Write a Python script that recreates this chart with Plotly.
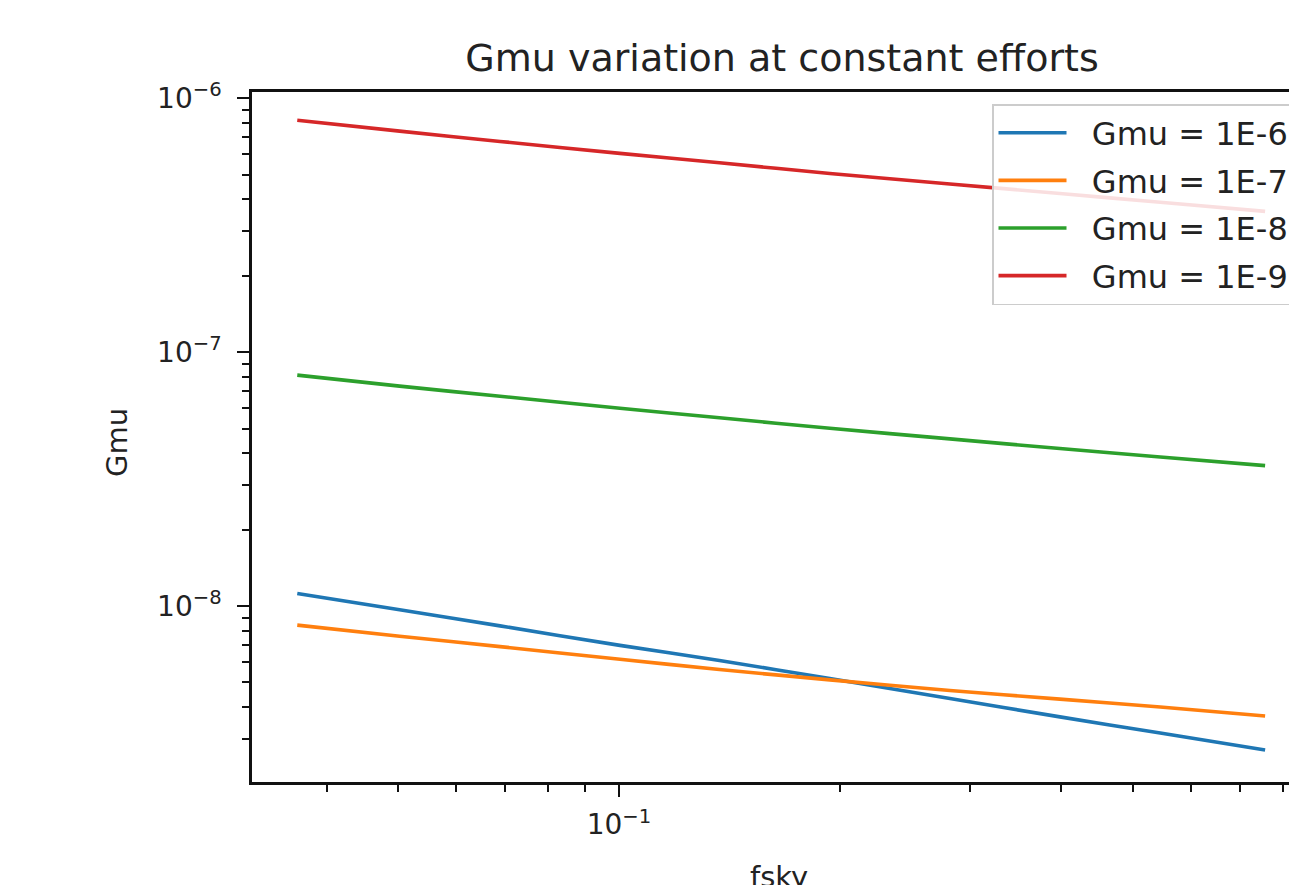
import plotly.graph_objects as go

# ---- data ----
fsky = [0.0365, 0.0503, 0.0689, 0.1003, 0.137, 0.1936, 0.282, 0.398, 0.545, 0.757]
gmu_1e6 = [1.12e-8, 9.66e-9, 8.35e-9, 7.00e-9, 6.10e-9, 5.18e-9, 4.32e-9, 3.66e-9, 3.16e-9, 2.71e-9]
gmu_1e7 = [8.41e-9, 7.60e-9, 6.92e-9, 6.17e-9, 5.62e-9, 5.12e-9, 4.65e-9, 4.30e-9, 4.00e-9, 3.69e-9]
gmu_1e8 = [8.11e-8, 7.34e-8, 6.70e-8, 6.01e-8, 5.51e-8, 5.01e-8, 4.55e-8, 4.17e-8, 3.86e-8, 3.57e-8]
gmu_1e9 = [8.18e-7, 7.41e-7, 6.75e-7, 6.06e-7, 5.56e-7, 5.05e-7, 4.59e-7, 4.21e-7, 3.89e-7, 3.58e-7]

series_names = ["Gmu = 1E-6", "Gmu = 1E-7", "Gmu = 1E-8", "Gmu = 1E-9"]
series_values = [gmu_1e6, gmu_1e7, gmu_1e8, gmu_1e9]
colors = ["#1f77b4", "#ff7f0e", "#2ca02c", "#d62728"]

x_tickvals = [0.1]
x_ticktext = ["10<sup>−1</sup>"]
x_minor = [0.04, 0.05, 0.06, 0.07, 0.08, 0.09, 0.2, 0.3, 0.4, 0.5, 0.6, 0.7, 0.8]
y_tickvals = [1e-8, 1e-7, 1e-6]
y_ticktext = ["10<sup>−8</sup>", "10<sup>−7</sup>", "10<sup>−6</sup>"]
y_minor = [m * 10.0 ** e for e in (-9, -8, -7) for m in range(2, 10)]

title_text = "Gmu variation at constant efforts"
x_label = "fsky"
y_label = "Gmu"

FONT = "DejaVu Sans"
TXT = "#222222"
NBSP = "\u00a0"

fig = go.Figure()
for i, (name, vals, col) in enumerate(zip(series_names, series_values, colors)):
    fig.add_trace(go.Scatter(
        x=fsky, y=vals, mode="lines", name=NBSP * 2 + name,
        line=dict(color=col, width=3.6, shape="spline", smoothing=0.8),
        legendgroup=f"g{i}",
    ))

W, H = 1289, 885
L, R, T, B = 252, 0, 92, 103

axis_common = dict(
    type="log",
    showgrid=False,
    zeroline=False,
    showline=True,
    linecolor="#111111",
    linewidth=2.5,
    ticks="outside",
    ticklen=12,
    tickwidth=2.2,
    tickcolor="#111111",
    tickmode="array",
    tickfont=dict(family=FONT, size=28, color=TXT),
)

fig.update_xaxes(
    **axis_common,
    range=[-1.4993, -0.0884],
    tickvals=x_tickvals, ticktext=x_ticktext,
    mirror=True,
    minor=dict(tickmode="array", tickvals=x_minor, ticks="outside",
               ticklen=7, tickwidth=1.8, tickcolor="#111111", showgrid=False),
    ticklabelstandoff=4,
)
fig.update_yaxes(
    **axis_common,
    range=[-8.693, -5.976],
    tickvals=y_tickvals, ticktext=y_ticktext,
    mirror=False,
    minor=dict(tickmode="array", tickvals=y_minor, ticks="outside",
               ticklen=7, tickwidth=1.8, tickcolor="#111111", showgrid=False),
    ticklabelstandoff=10,
)

fig.update_layout(
    width=W, height=H,
    margin=dict(l=L, r=R, t=T, b=B, autoexpand=False),
    paper_bgcolor="white",
    plot_bgcolor="white",
    font=dict(family=FONT, color=TXT),
    title=dict(text=title_text, x=782 / W, xanchor="center",
               y=1 - 58 / H, yanchor="middle",
               font=dict(family=FONT, size=38, color=TXT)),
    legend=dict(
        x=(992 - L) / (W - L - R), y=(782 - 104) / (H - T - B),
        xanchor="left", yanchor="top",
        bgcolor="rgba(255,255,255,0.85)",
        bordercolor="#cccccc", borderwidth=1.5,
        font=dict(family=FONT, size=32, color=TXT),
        tracegroupgap=3,
        traceorder="grouped",
        itemwidth=68,
    ),
    showlegend=True,
    annotations=[
        dict(text=y_label, xref="paper", yref="paper", x=0, y=0.5,
             xanchor="center", yanchor="middle", xshift=-(L - 117), yshift=-6,
             textangle=-90, showarrow=False,
             font=dict(family=FONT, size=29, color=TXT)),
        dict(text=x_label, xref="paper", yref="paper", x=(779 - L) / (W - L - R), y=0,
             xanchor="center", yanchor="top", yshift=-(858 - 782),
             showarrow=False,
             font=dict(family=FONT, size=29, color=TXT)),
    ],
)

fig.write_html("out.html")
